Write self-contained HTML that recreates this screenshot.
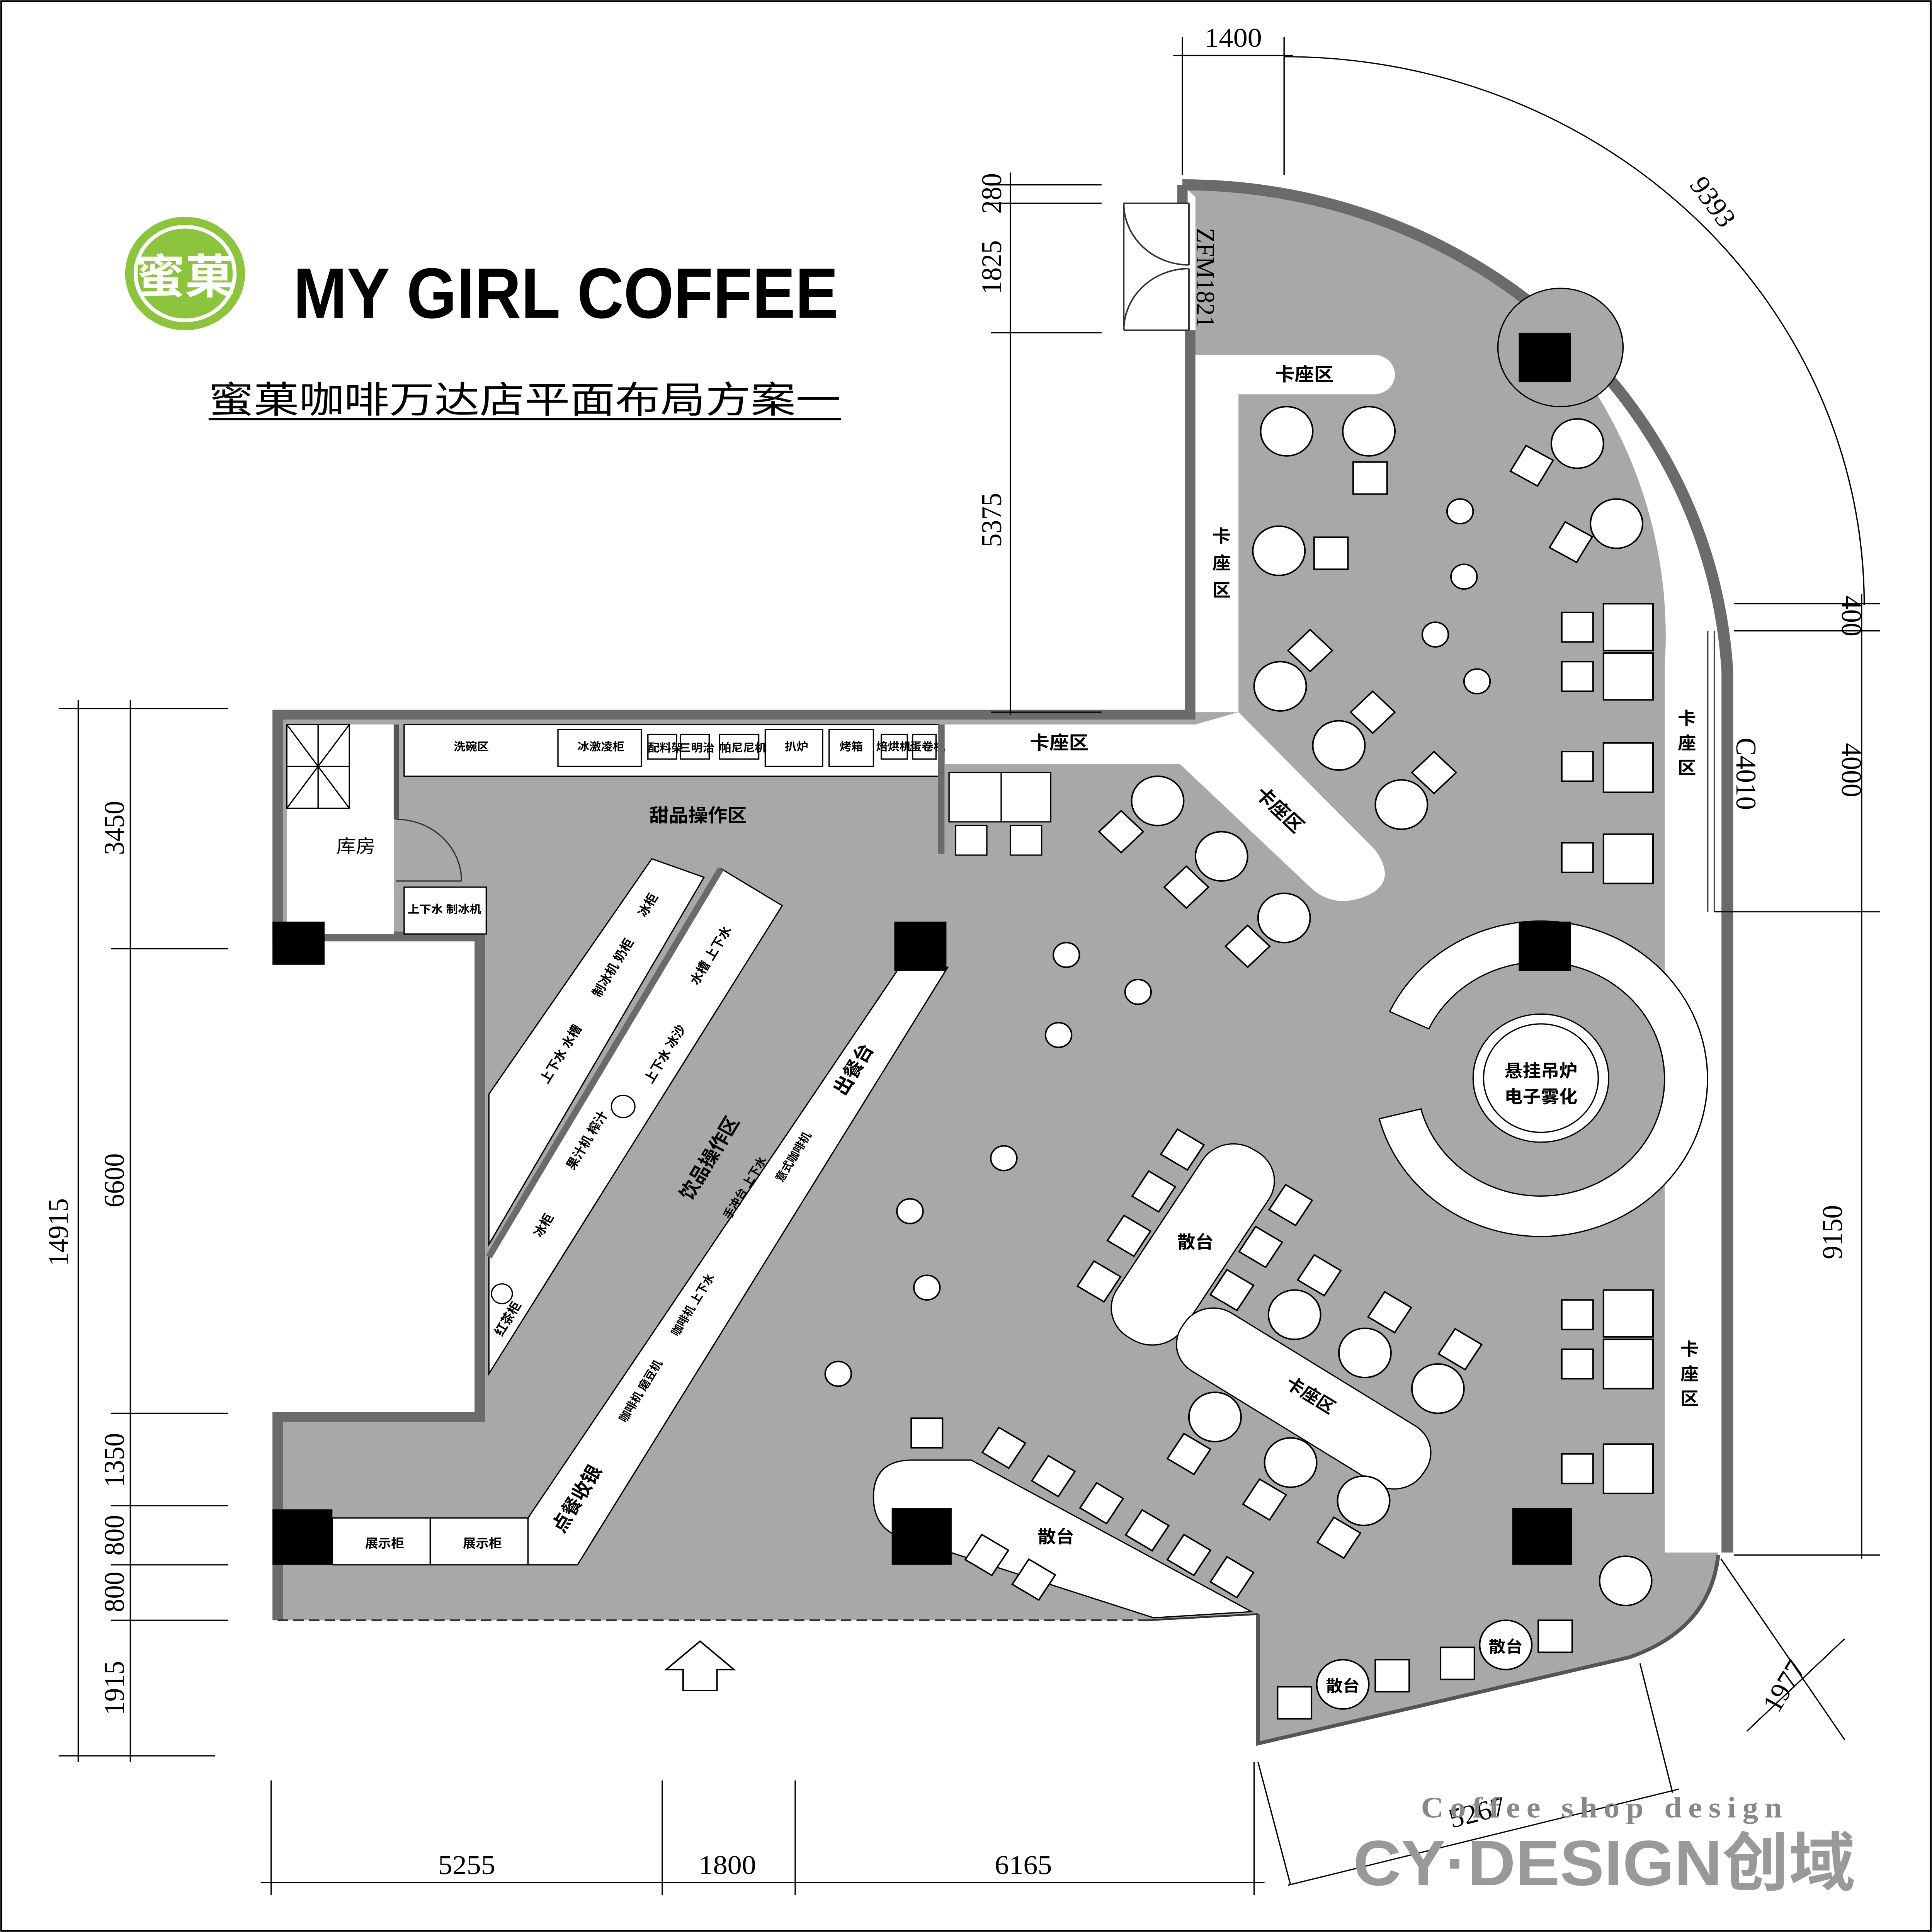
<!DOCTYPE html>
<html><head><meta charset="utf-8">
<style>
html,body{margin:0;padding:0;background:#fff;width:100%;height:100%;overflow:hidden;}
svg{display:block;position:fixed;left:0;top:0;width:100vw;height:100vh;}
text{font-family:"Liberation Sans","Noto Sans CJK SC",sans-serif;}
.d text,text.d{font-family:"Liberation Serif","Noto Serif CJK SC",serif;font-size:22px;}
.s{font-size:11px;font-weight:bold;}
</style></head><body>
<svg xmlns="http://www.w3.org/2000/svg" viewBox="0 0 1482 1568" preserveAspectRatio="none">
<rect x="1" y="1" width="1480" height="1566" fill="#fff" stroke="#000" stroke-width="1.5"/>

<circle cx="142" cy="222" r="46" fill="#8dc43e"/>
<circle cx="142" cy="222" r="38" fill="none" stroke="#fff" stroke-width="3"/>
<text x="142" y="238" font-size="38" fill="#fff" text-anchor="middle" font-weight="bold">蜜菓</text>
<text x="225" y="258" font-size="58" font-weight="bold" textLength="418" lengthAdjust="spacingAndGlyphs">MY GIRL COFFEE</text>
<text x="160" y="335" font-size="30" textLength="485" lengthAdjust="spacingAndGlyphs">蜜菓咖啡万达店平面布局方案一</text>
<line x1="160" y1="340" x2="645" y2="340" stroke="#000" stroke-width="2"/>

<path d="M917,160 L917,583 L213,583 L213,760 L368,760 L368,1150 L213,1150 L213,1315 L880,1315 L965,1310 L965,1415 L1250,1345 Q1312,1322 1318,1260 L1318,545 A411,411 0 0 0 907,150 Z" fill="#a8a8a8"/>
<path d="M1225,320 A390,390 0 0 1 1277,540 L1277,1260 L1318,1260 L1318,545 A411,411 0 0 0 1240,300 Z" fill="#fff"/>
<path d="M907,150 A418,418 0 0 1 1325,545 L1325,1260" fill="none" stroke="#6b6b6b" stroke-width="9"/>
<path d="M1318,1262 Q1312,1322 1250,1345 L965,1415 L965,1310" fill="none" stroke="#555" stroke-width="3"/>
<path d="M907,150 L907,165 M913,268 L913,580 L213,580 L213,760 L368,760 L368,1150 L213,1150 L213,1315" fill="none" stroke="#6b6b6b" stroke-width="8"/>
<line x1="213" y1="1315" x2="880" y2="1315" stroke="#333" stroke-width="1.5" stroke-dasharray="8,4"/>
<line x1="880" y1="1315" x2="965" y2="1310" stroke="#333" stroke-width="1.5"/>
<line x1="1310" y1="512" x2="1310" y2="740" stroke="#444" stroke-width="1"/>
<line x1="1315" y1="512" x2="1315" y2="740" stroke="#444" stroke-width="1"/>
<g fill="none" stroke="#333" stroke-width="1.2">
<line x1="862" y1="165" x2="912" y2="165"/><line x1="862" y1="268" x2="912" y2="268"/>
<line x1="862" y1="165" x2="862" y2="268"/>
<line x1="912" y1="165" x2="912" y2="215"/><line x1="912" y1="268" x2="912" y2="218"/>
<path d="M862,165 A50,50 0 0 0 912,215"/><path d="M862,268 A50,50 0 0 1 912,218"/>
</g>
<text x="918" y="185" class="d" transform="rotate(90 918 185)" style="font-size:20px">ZFM1821</text>

<rect x="220" y="588" width="82" height="170" fill="#fff"/>
<rect x="220" y="588" width="48" height="68" fill="#fff" stroke="#000"/>
<path d="M220,588 L268,656 M268,588 L220,656 M220,622 L268,622 M244,588 L244,656" stroke="#000" fill="none"/>
<rect x="248" y="730" width="54" height="28" fill="#fff"/>
<text x="258" y="692" font-size="15">库房</text>
<line x1="304" y1="588" x2="304" y2="665" stroke="#555" stroke-width="4"/>
<path d="M304,665 A50,50 0 0 1 354,715" fill="none" stroke="#333"/>
<line x1="304" y1="715" x2="354" y2="715" stroke="#333"/>
<rect x="310" y="720" width="63" height="38" fill="#fff" stroke="#000"/>
<text x="341" y="741" class="s" text-anchor="middle" style="font-size:9px">上下水 制冰机</text>

<rect x="310" y="588" width="410" height="42" fill="#fff" stroke="#000"/>
<g fill="#fff" stroke="#000"><rect x="428" y="592" width="64" height="30"/><rect x="497" y="596" width="22" height="20"/><rect x="522" y="596" width="22" height="20"/><rect x="552" y="596" width="30" height="20"/><rect x="587" y="592" width="44" height="30"/><rect x="636" y="592" width="34" height="30"/><rect x="676" y="596" width="20" height="20"/><rect x="700" y="596" width="18" height="20"/></g>
<g class="s" style="font-size:9px"><text x="348" y="609">洗碗区</text><text x="443" y="609">冰激凌柜</text><text x="497" y="610">配料架</text><text x="521" y="610">三明治</text><text x="552" y="610">帕尼尼机</text><text x="602" y="609">扒炉</text><text x="644" y="609">烤箱</text><text x="672" y="609">焙烘机</text><text x="698" y="609">蛋卷机</text></g>
<line x1="722" y1="588" x2="722" y2="693" stroke="#6b6b6b" stroke-width="5"/>
<text x="498" y="667" font-size="15" font-weight="bold">甜品操作区</text>

<g fill="#fff" stroke="#000"><rect x="728" y="627" width="40" height="40"/><rect x="768" y="627" width="38" height="40"/><rect x="733" y="670" width="24" height="24"/><rect x="775" y="670" width="24" height="24"/></g>

<polygon points="375,888 500,697 540,712 375,1010" fill="#fff" stroke="#000"/>
<polygon points="375,1020 553,705 600,735 375,1115" fill="#fff" stroke="#000"/>
<line x1="553" y1="705" x2="375" y2="1020" stroke="#6b6b6b" stroke-width="5"/>
<g class="s" style="font-size:10px">
<text x="495" y="745" transform="rotate(-60 495 745)">冰柜</text>
<text x="460" y="810" transform="rotate(-60 460 810)">制冰机 奶柜</text>
<text x="420" y="880" transform="rotate(-60 420 880)">上下水 水槽</text>
<text x="440" y="950" transform="rotate(-60 440 950)">果汁机 榨汁</text>
<text x="415" y="1005" transform="rotate(-60 415 1005)">冰柜</text>
<text x="385" y="1085" transform="rotate(-60 385 1085)">红茶柜</text>
<text x="535" y="800" transform="rotate(-60 535 800)">水槽 上下水</text>
<text x="500" y="880" transform="rotate(-60 500 880)">上下水 冰沙</text>
</g>
<circle cx="478" cy="898" r="9" fill="#fff" stroke="#000"/>
<circle cx="385" cy="1050" r="8" fill="#fff" stroke="#000"/>
<text x="530" y="975" font-size="15" font-weight="bold" transform="rotate(-60 530 975)">饮品操作区</text>

<polygon points="690,785 727,785 443,1270 405,1270 405,1232" fill="#fff" stroke="#000"/>
<text x="648" y="890" font-size="15" font-weight="bold" transform="rotate(-60 648 890)">出餐台</text>
<text x="432" y="1245" font-size="15" font-weight="bold" transform="rotate(-60 432 1245)">点餐收银</text>
<g class="s" style="font-size:9px">
<text x="560" y="990" transform="rotate(-60 560 990)">手冲台 上下水</text>
<text x="600" y="960" transform="rotate(-60 600 960)">意式咖啡机</text>
<text x="520" y="1085" transform="rotate(-60 520 1085)">咖啡机 上下水</text>
<text x="480" y="1155" transform="rotate(-60 480 1155)">咖啡机 磨豆机</text>
</g>
<rect x="255" y="1232" width="150" height="38" fill="#fff" stroke="#000"/>
<line x1="330" y1="1232" x2="330" y2="1270" stroke="#000"/>
<text x="280" y="1256" class="s" style="font-size:10px">展示柜</text><text x="355" y="1256" class="s" style="font-size:10px">展示柜</text>

<rect x="917" y="288" width="153" height="32" rx="16" fill="#fff"/>
<rect x="917" y="288" width="33" height="290" fill="#fff"/>
<text x="978" y="309" font-size="15" font-weight="bold">卡座区</text>
<text x="930" y="440" font-size="14" font-weight="bold">卡</text><text x="930" y="462" font-size="14" font-weight="bold">座</text><text x="930" y="484" font-size="14" font-weight="bold">区</text>
<path d="M725,588 L917,588 L950,578 L1055,690 Q1075,720 1040,730 Q1020,735 1005,720 L905,620 L725,620 Z" fill="#fff"/>
<text x="790" y="608" font-size="15" font-weight="bold">卡座区</text>
<text x="962" y="645" font-size="15" font-weight="bold" transform="rotate(45 962 645)">卡座区</text>
<text x="1287" y="588" font-size="14" font-weight="bold">卡</text><text x="1287" y="608" font-size="14" font-weight="bold">座</text><text x="1287" y="628" font-size="14" font-weight="bold">区</text>
<text x="1289" y="1100" font-size="14" font-weight="bold">卡</text><text x="1289" y="1120" font-size="14" font-weight="bold">座</text><text x="1289" y="1140" font-size="14" font-weight="bold">区</text>

<circle cx="1197" cy="282" r="48" fill="#a8a8a8" stroke="#000"/>

<path d="M1066,821 A128,128 0 1 1 1058,908 L1090,900 A95,95 0 1 0 1096,835 Z" fill="#fff" stroke="#000"/>
<circle cx="1182" cy="875" r="52" fill="#fff" stroke="#000"/>
<circle cx="1182" cy="875" r="44" fill="none" stroke="#000"/>
<text x="1182" y="874" font-size="14" font-weight="bold" text-anchor="middle">悬挂吊炉</text>
<text x="1182" y="895" font-size="14" font-weight="bold" text-anchor="middle">电子雾化</text>

<rect x="-30" y="-90" width="60" height="180" rx="28" fill="#fff" stroke="#000" transform="translate(915,1010) rotate(32)"/>
<text x="903" y="1013" font-size="14" font-weight="bold">散台</text>
<rect x="-110" y="-28" width="220" height="56" rx="26" fill="#fff" stroke="#000" transform="translate(1000,1135) rotate(33)"/>
<text x="985" y="1125" font-size="14" font-weight="bold" transform="rotate(33 985 1125)">卡座区</text>
<path d="M700,1185 L745,1185 L960,1308 L885,1313 L700,1250 Q670,1245 670,1215 Q670,1185 700,1185 Z" fill="#fff" stroke="#000"/>
<text x="796" y="1252" font-size="14" font-weight="bold">散台</text>

<g fill="#000"><rect x="209" y="748" width="40" height="35"/><rect x="1165" y="270" width="40" height="40"/><rect x="686" y="748" width="40" height="40"/><rect x="1165" y="748" width="40" height="40"/><rect x="209" y="1225" width="46" height="45"/><rect x="684" y="1224" width="46" height="46"/><rect x="1160" y="1224" width="46" height="46"/></g>

<g fill="#fff" stroke="#000" stroke-width="1.2">
<circle cx="987" cy="350" r="20"/><circle cx="1050" cy="350" r="20"/><circle cx="981" cy="447" r="20"/><circle cx="1210" cy="360" r="20"/><circle cx="1240" cy="425" r="20"/><circle cx="982" cy="557" r="20"/><circle cx="1027" cy="605" r="20"/><circle cx="1075" cy="653" r="20"/><circle cx="888" cy="650" r="20"/><circle cx="937" cy="695" r="20"/><circle cx="985" cy="745" r="20"/><circle cx="993" cy="1067" r="20"/><circle cx="1047" cy="1098" r="20"/><circle cx="1103" cy="1127" r="20"/><circle cx="932" cy="1150" r="20"/><circle cx="990" cy="1187" r="20"/><circle cx="1046" cy="1218" r="20"/><circle cx="1247" cy="1283" r="20"/>
<circle cx="1120" cy="415" r="10"/><circle cx="1123" cy="468" r="10"/><circle cx="1101" cy="515" r="10"/><circle cx="1133" cy="553" r="10"/><circle cx="818" cy="775" r="10"/><circle cx="873" cy="805" r="10"/><circle cx="812" cy="840" r="10"/><circle cx="770" cy="940" r="10"/><circle cx="698" cy="983" r="10"/><circle cx="711" cy="1045" r="10"/><circle cx="643" cy="1115" r="10"/>
<circle cx="1155" cy="1335" r="20"/><circle cx="1030" cy="1367" r="20"/>
</g>
<text x="1155" y="1341" font-size="13" font-weight="bold" text-anchor="middle">散台</text>
<text x="1030" y="1373" font-size="13" font-weight="bold" text-anchor="middle">散台</text>

<g fill="#fff" stroke="#000" stroke-width="1.2">
<rect x="1038" y="375" width="26" height="26"/><rect x="1008" y="436" width="26" height="26"/>
<rect x="1198" y="497" width="24" height="24"/><rect x="1198" y="537" width="24" height="24"/><rect x="1230" y="490" width="38" height="38"/><rect x="1230" y="530" width="38" height="38"/>
<rect x="1198" y="610" width="24" height="24"/><rect x="1230" y="603" width="38" height="40"/>
<rect x="1198" y="684" width="24" height="24"/><rect x="1230" y="677" width="38" height="40"/>
<rect x="1198" y="1055" width="24" height="24"/><rect x="1198" y="1095" width="24" height="24"/><rect x="1230" y="1047" width="38" height="38"/><rect x="1230" y="1087" width="38" height="40"/>
<rect x="1198" y="1180" width="24" height="24"/><rect x="1230" y="1172" width="38" height="40"/>
<rect x="699" y="1151" width="24" height="24"/><rect x="980" y="1369" width="26" height="26"/><rect x="1055" y="1347" width="26" height="26"/><rect x="1105" y="1337" width="26" height="26"/><rect x="1180" y="1315" width="26" height="26"/>
</g>
<g fill="#fff" stroke="#000" stroke-width="1.2">
<rect x="-12" y="-12" width="24" height="24" transform="translate(1175,378) rotate(30)"/>
<rect x="-12" y="-12" width="24" height="24" transform="translate(1205,440) rotate(30)"/>
<rect x="-12" y="-12" width="24" height="24" transform="translate(1005,528) rotate(45)"/>
<rect x="-12" y="-12" width="24" height="24" transform="translate(1053,578) rotate(45)"/>
<rect x="-12" y="-12" width="24" height="24" transform="translate(1100,627) rotate(45)"/>
<rect x="-12" y="-12" width="24" height="24" transform="translate(860,675) rotate(45)"/>
<rect x="-12" y="-12" width="24" height="24" transform="translate(910,720) rotate(45)"/>
<rect x="-12" y="-12" width="24" height="24" transform="translate(957,768) rotate(45)"/>
<rect x="-12" y="-12" width="24" height="24" transform="translate(907,933) rotate(32)"/>
<rect x="-12" y="-12" width="24" height="24" transform="translate(885,967) rotate(32)"/>
<rect x="-12" y="-12" width="24" height="24" transform="translate(866,1003) rotate(32)"/>
<rect x="-12" y="-12" width="24" height="24" transform="translate(843,1040) rotate(32)"/>
<rect x="-12" y="-12" width="24" height="24" transform="translate(990,978) rotate(32)"/>
<rect x="-12" y="-12" width="24" height="24" transform="translate(967,1012) rotate(32)"/>
<rect x="-12" y="-12" width="24" height="24" transform="translate(945,1047) rotate(32)"/>
<rect x="-12" y="-12" width="24" height="24" transform="translate(1012,1035) rotate(32)"/>
<rect x="-12" y="-12" width="24" height="24" transform="translate(1066,1065) rotate(32)"/>
<rect x="-12" y="-12" width="24" height="24" transform="translate(1120,1095) rotate(32)"/>
<rect x="-12" y="-12" width="24" height="24" transform="translate(912,1180) rotate(32)"/>
<rect x="-12" y="-12" width="24" height="24" transform="translate(970,1217) rotate(32)"/>
<rect x="-12" y="-12" width="24" height="24" transform="translate(1027,1248) rotate(32)"/>
<rect x="-12" y="-12" width="24" height="24" transform="translate(770,1175) rotate(32)"/>
<rect x="-12" y="-12" width="24" height="24" transform="translate(808,1198) rotate(32)"/>
<rect x="-12" y="-12" width="24" height="24" transform="translate(845,1220) rotate(32)"/>
<rect x="-12" y="-12" width="24" height="24" transform="translate(880,1242) rotate(32)"/>
<rect x="-12" y="-12" width="24" height="24" transform="translate(912,1262) rotate(32)"/>
<rect x="-12" y="-12" width="24" height="24" transform="translate(945,1280) rotate(32)"/>
<rect x="-12" y="-12" width="24" height="24" transform="translate(757,1262) rotate(32)"/>
<rect x="-12" y="-12" width="24" height="24" transform="translate(793,1282) rotate(32)"/>
</g>

<polygon points="537,1332 563,1355 550,1355 550,1372 524,1372 524,1355 511,1355" fill="#fff" stroke="#000" stroke-width="1.2"/>

<g stroke="#000" stroke-width="1" fill="none">
<line x1="907" y1="30" x2="907" y2="142"/><line x1="985" y1="30" x2="985" y2="142"/><line x1="900" y1="45" x2="992" y2="45"/>
<path d="M985,46 A445,445 0 0 1 1430,491"/>
<line x1="760" y1="150" x2="845" y2="150"/><line x1="760" y1="165" x2="845" y2="165"/><line x1="760" y1="270" x2="845" y2="270"/><line x1="760" y1="578" x2="845" y2="578"/>
<line x1="775" y1="140" x2="775" y2="580"/>
<line x1="1330" y1="490" x2="1442" y2="490"/><line x1="1330" y1="512" x2="1442" y2="512"/><line x1="1315" y1="740" x2="1442" y2="740"/><line x1="1330" y1="1262" x2="1442" y2="1262"/>
<line x1="1428" y1="482" x2="1428" y2="1265"/>
<line x1="45" y1="575" x2="175" y2="575"/><line x1="85" y1="770" x2="175" y2="770"/><line x1="85" y1="1147" x2="175" y2="1147"/><line x1="85" y1="1222" x2="175" y2="1222"/><line x1="85" y1="1270" x2="175" y2="1270"/><line x1="85" y1="1315" x2="175" y2="1315"/><line x1="45" y1="1425" x2="165" y2="1425"/>
<line x1="60" y1="568" x2="60" y2="1430"/><line x1="100" y1="568" x2="100" y2="1430"/>
<line x1="208" y1="1445" x2="208" y2="1538"/><line x1="508" y1="1445" x2="508" y2="1538"/><line x1="610" y1="1445" x2="610" y2="1538"/><line x1="962" y1="1430" x2="962" y2="1538"/>
<line x1="200" y1="1528" x2="970" y2="1528"/>
<line x1="988" y1="1530" x2="1288" y2="1452"/><line x1="965" y1="1430" x2="990" y2="1530"/><line x1="1258" y1="1350" x2="1283" y2="1455"/>
<line x1="1320" y1="1265" x2="1415" y2="1412"/><line x1="1415" y1="1330" x2="1340" y2="1405"/>
</g>
<g class="d" text-anchor="middle">
<text x="946" y="38">1400</text>
<text x="1308" y="168" transform="rotate(55 1308 168)">9393</text>
<text x="768" y="157" transform="rotate(-90 768 157)">280</text>
<text x="768" y="217" transform="rotate(-90 768 217)">1825</text>
<text x="768" y="422" transform="rotate(-90 768 422)">5375</text>
<text x="1413" y="500" transform="rotate(90 1413 500)">400</text>
<text x="1413" y="625" transform="rotate(90 1413 625)">4000</text>
<text x="1413" y="1000" transform="rotate(-90 1413 1000)">9150</text>
<text x="1332" y="628" transform="rotate(90 1332 628)">C4010</text>
<text x="95" y="672" transform="rotate(-90 95 672)">3450</text>
<text x="95" y="958" transform="rotate(-90 95 958)">6600</text>
<text x="95" y="1185" transform="rotate(-90 95 1185)">1350</text>
<text x="95" y="1246" transform="rotate(-90 95 1246)">800</text>
<text x="95" y="1292" transform="rotate(-90 95 1292)">800</text>
<text x="95" y="1370" transform="rotate(-90 95 1370)">1915</text>
<text x="52" y="1000" transform="rotate(-90 52 1000)">14915</text>
<text x="358" y="1521">5255</text>
<text x="558" y="1521">1800</text>
<text x="785" y="1521">6165</text>
<text x="1135" y="1478" transform="rotate(-15 1135 1478)">5267</text>
<text x="1375" y="1372" transform="rotate(-60 1375 1372)">1977</text>
</g>

<text x="1090" y="1475" class="d" style="font-size:24px;font-weight:bold;fill:#888;letter-spacing:5px">Coffee shop design</text>
<text x="1038" y="1530" font-size="52" font-weight="bold" fill="#999" textLength="385" lengthAdjust="spacingAndGlyphs">CY·DESIGN创域</text>
</svg>
</body></html>
